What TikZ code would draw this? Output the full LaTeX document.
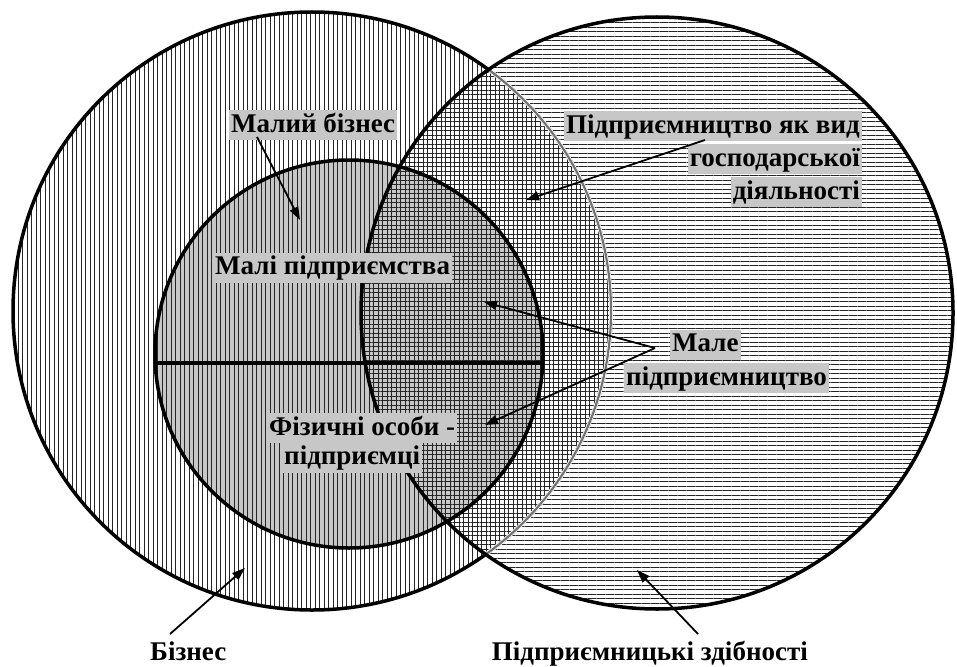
\documentclass[tikz,border=0pt]{standalone}
\usepackage{fontspec}
\setmainfont{Liberation Serif}
\usetikzlibrary{patterns.meta,arrows.meta}
\definecolor{boxgray}{gray}{0.78}
\begin{document}
\begin{tikzpicture}[x=1pt,y=-1pt,
  lbl/.style={font=\fontsize{27}{31}\selectfont\bfseries, fill=boxgray, inner xsep=2pt, inner ysep=2pt, text height=20pt, text depth=6pt},
  plain/.style={font=\fontsize{27}{31}\selectfont\bfseries, inner sep=0pt},
  arr/.style={line width=1.8pt, -{Triangle[length=13pt,width=9pt]}},
  outline/.style={line width=3.5pt, draw=black},
  vlines/.style={pattern={Lines[angle=90,distance=4.5pt,line width=0.45pt]}, pattern color=black!85},
  hlines/.style={pattern={Lines[angle=0,distance=4.5pt,line width=0.45pt]}, pattern color=black!85}]
\useasboundingbox (0,0) rectangle (957,666);
\coordinate (B) at (312,311);
\coordinate (R) at (657,313);
\coordinate (I) at (349,354);
% fills
\fill[boxgray] (I) circle (194pt);
\fill[vlines] (B) circle (299pt);
\fill[hlines] (R) circle (296pt);
% outlines
\draw[outline] (B) circle (299pt);
\begin{scope}
  \clip (R) circle (294.5pt);
  \draw[line width=3.9pt, draw=white] (B) circle (299pt);
  \draw[line width=2.2pt, draw=black!55] (B) circle (299pt);
\end{scope}
\draw[outline] (R) circle (296pt);
\draw[outline] (I) circle (194pt);
\coordinate (chL) at (155,363);
\coordinate (chR) at (543,363);
\draw[line width=4pt] (chL) -- (chR);
% labels
\node[lbl, anchor=west] (malbiz) at (229,125) {Малий бізнес};
\node[lbl, anchor=west] (malpid) at (213,267.5) {Малі підприємства};
\node[lbl, anchor=east] (pid1) at (862,126) {Підприємництво як вид};
\node[lbl, anchor=east] (pid2) at (862,159) {господарської};
\node[lbl, anchor=east] (pid3) at (862,192) {діяльності};
\node[lbl, anchor=west] (male1) at (670,344.5) {Мале};
\node[lbl, anchor=west] (male2) at (624,378) {підприємництво};
\node[lbl, anchor=west] (fiz1) at (267,428) {Фізичні особи -};
\node[lbl, anchor=west] (fiz2) at (282,457.5) {підприємці};
\node[plain, anchor=base west] (biz) at (150,660) {Бізнес};
\node[plain, anchor=base east] (zdib) at (808,660) {Підприємницькі здібності};
% arrows
\coordinate (a1s) at (257,137);
\coordinate (a1t) at (300,220);
\coordinate (a2s) at (705,140);
\coordinate (a2t) at (526,200);
\coordinate (apex) at (655,348);
\coordinate (a3t) at (484,302);
\coordinate (a4t) at (485,425);
\coordinate (a5s) at (170,634);
\coordinate (a5t) at (245,568);
\coordinate (a6s) at (698,634);
\coordinate (a6t) at (637,570);
\draw[arr] (a1s) -- (a1t);
\draw[arr] (a2s) -- (a2t);
\draw[arr] (apex) -- (a3t);
\draw[arr] (apex) -- (a4t);
\draw[arr] (a5s) -- (a5t);
\draw[arr] (a6s) -- (a6t);
\end{tikzpicture}
\end{document}
